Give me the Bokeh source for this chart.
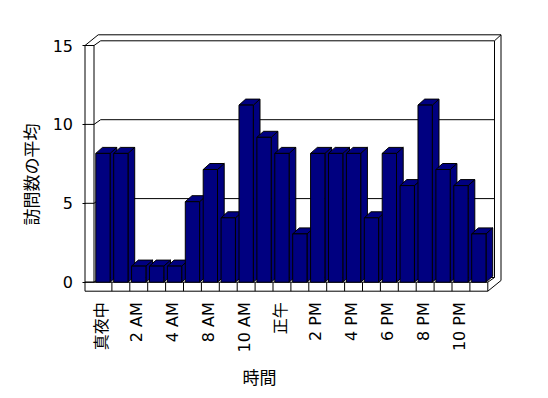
from math import pi
from bokeh.plotting import figure
from bokeh.models import Range1d, FixedTicker, Label
from bokeh.embed import file_html
from bokeh.resources import INLINE

# ---- data ----
categories = ["真夜中", "1 AM", "2 AM", "3 AM", "4 AM", "7 AM", "8 AM", "9 AM",
              "10 AM", "11 AM", "正午", "1 PM", "2 PM", "3 PM", "4 PM", "5 PM",
              "6 PM", "7 PM", "8 PM", "9 PM", "10 PM", "11 PM"]
visits = [8, 8, 1, 1, 1, 5, 7, 4, 11, 9, 8, 3, 8, 8, 8, 4, 8, 6, 11, 7, 6, 3]
y_ticks = [0, 5, 10, 15]
x_title = "時間"
y_title = "訪問数の平均"

N = len(categories)
YMAX = y_ticks[-1]

W, H = 548, 398
# ---- geometry (pixel sizes converted to data units) ----
PX = 17.9      # px per category
PY = 15.78     # px per unit (front axis / walls)
PYB = 16.1     # px per unit (bars)
X0 = 93.5      # pixel x of the first category edge
Y0 = 281.7     # pixel y of the value 0
dxD, dyD = 6.7 / PX, 4.7 / PY     # floor depth
dxT, dyT = 6.5 / PX, 6.0 / PY     # wall thickness
bdx, bdy = 6.7 / PX, 6.0 / PYB    # bar depth
x_in = -0.4                       # inner left (category start)
x_out = x_in - 9.0 / PX           # outer left face of wall
x_r = N - 0.4                     # right end of floor (front)
fb = -9.0 / PY                    # floor bottom

NAVY = "#000080"

p = figure(width=W, height=H, output_backend="svg", toolbar_location=None,
           title=None,
           x_range=Range1d(-X0 / PX - 0.4, (W - X0) / PX - 0.4),
           y_range=Range1d(-(H - Y0) / PY, Y0 / PY),
           min_border=0)
p.extra_y_ranges = {"bars": Range1d(-(H - Y0) / PYB, Y0 / PYB)}
p.xgrid.visible = False
p.ygrid.visible = False
p.outline_line_color = None
p.background_fill_color = "white"
p.border_fill_color = "white"

# ---- walls / floor outline ----
top_back = YMAX + dyD + dyT
right_back = x_r + dxD + dxT
p.patch([x_out, x_out, x_out + dxD + dxT, right_back, right_back, x_r],
        [fb, YMAX, top_back, top_back, fb + dyD + dyT, fb],
        fill_color="white", line_color="black", line_width=1)

gx, gy = [], []
for v in y_ticks:
    gx.append([x_out, x_in, x_in + dxD, x_r + dxD])
    gy.append([v, v, v + dyD, v + dyD])
gx.append([x_in, x_in]); gy.append([YMAX, 0])
gx.append([x_r + dxD, x_r + dxD]); gy.append([YMAX + dyD, dyD])
gx.append([x_r + dxD, right_back]); gy.append([YMAX + dyD, top_back])
gx.append([x_out, x_r]); gy.append([0, 0])
gx.append([x_r, x_r + dxD]); gy.append([0, dyD])
for i in range(1, N + 1):
    gx.append([i - 0.4, i - 0.4]); gy.append([0, fb])
p.multi_line(gx, gy, line_color="black", line_width=1)

# ---- 3D bars ----
lefts = [i - 0.3 for i in range(N)]
rights = [i + 0.5 for i in range(N)]
side_xs = [[r, r, r + bdx, r + bdx] for r in rights]
side_ys = [[0, v, v + bdy, bdy] for v in visits]
top_xs = [[l, r, r + bdx, l + bdx] for l, r in zip(lefts, rights)]
top_ys = [[v, v, v + bdy, v + bdy] for v in visits]
p.patches(side_xs, side_ys, y_range_name="bars", fill_color=NAVY,
          line_color="black", line_width=1)
p.patches(top_xs, top_ys, y_range_name="bars", fill_color=NAVY,
          line_color="black", line_width=1)
p.quad(left=lefts, right=rights, bottom=0, top=visits, y_range_name="bars",
       fill_color=NAVY, line_color="black", line_width=1)

# ---- axes ----
ya = p.yaxis[0]
ya.fixed_location = x_out
ya.ticker = FixedTicker(ticks=y_ticks)
ya.axis_line_color = None
ya.major_tick_out = 3
ya.major_tick_in = 0
ya.minor_tick_line_color = None
ya.major_label_standoff = 9
ya.major_label_text_font = "DejaVu Sans"
ya.major_label_text_font_size = "16px"
ya.major_label_text_color = "black"

xa = p.xaxis[0]
label_idx = list(range(0, N, 2))
xa.fixed_location = fb
xa.ticker = FixedTicker(ticks=label_idx)
xa.major_label_overrides = {i: categories[i] for i in label_idx}
xa.major_label_orientation = pi / 2
xa.axis_line_color = None
xa.major_tick_out = 0
xa.major_tick_in = 0
xa.minor_tick_line_color = None
xa.major_label_standoff = 11
xa.major_label_text_font = "DejaVu Sans, Noto Sans CJK JP"
xa.major_label_text_font_size = "16px"
xa.major_label_text_color = "black"

p.add_layout(Label(x=(30 - X0) / PX - 0.4, y=(Y0 - 174) / PY, text=y_title,
                   angle=pi / 2, text_align="center", text_baseline="middle",
                   text_font="Noto Sans CJK JP", text_font_size="17px",
                   text_color="black"))
p.add_layout(Label(x=(259 - X0) / PX - 0.4, y=(Y0 - 375.5) / PY, text=x_title,
                   text_align="center", text_baseline="middle",
                   text_font="Noto Sans CJK JP", text_font_size="17px",
                   text_color="black"))

open("out.html", "w").write(file_html(p, INLINE))
